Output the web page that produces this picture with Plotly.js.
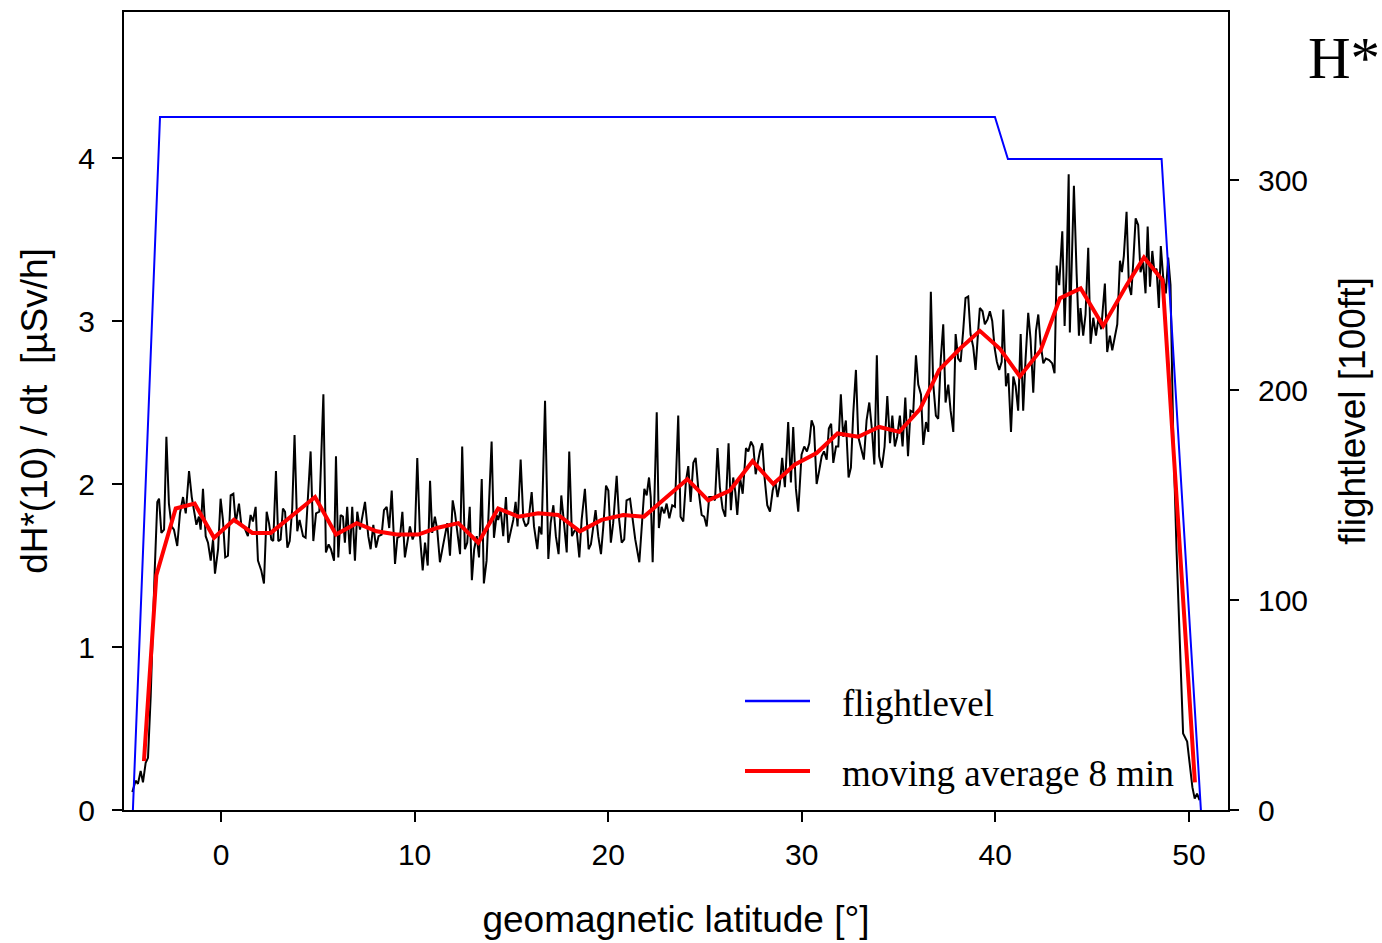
<!DOCTYPE html>
<html>
<head>
<meta charset="utf-8">
<script src="https://cdn.plot.ly/plotly-3.0.1.min.js"></script>
<style>html,body{margin:0;padding:0;background:#fff;}#chart{width:1382px;height:943px;}</style>
</head>
<body>
<div id="chart"></div>
<script>
// raw dose-rate series (geomagnetic latitude [deg], dH*(10)/dt [uSv/h])
const rawLat = [-4.58,-4.41,-4.29,-4.15,-4.03,-3.89,-3.77,-3.63,-3.43,-3.29,-3.20,-3.08,-2.94,-2.82,-2.69,-2.55,-2.43,-2.26,-2.12,-1.96,-1.82,-1.65,-1.51,-1.39,-1.27,-1.14,-1.05,-0.93,-0.79,-0.67,-0.53,-0.41,-0.31,-0.15,-0.02,0.10,0.22,0.36,0.50,0.64,0.76,0.93,1.05,1.22,1.39,1.53,1.65,1.79,1.91,2.08,2.22,2.36,2.48,2.60,2.70,2.84,2.96,3.08,3.20,3.31,3.43,3.55,3.68,3.80,3.94,4.06,4.24,4.37,4.63,4.77,
4.91,5.08,5.29,5.42,5.56,5.68,5.84,5.94,6.06,6.18,6.30,6.40,6.52,6.66,6.78,6.92,7.04,7.18,7.30,7.44,7.61,7.73,7.87,8.01,8.14,8.30,8.42,8.56,8.69,8.82,8.99,9.11,9.25,9.37,9.50,9.62,9.76,9.90,10.02,10.14,10.28,10.42,10.54,10.68,10.80,10.91,11.05,11.17,11.31,11.45,11.57,11.69,11.83,11.97,12.09,12.21,12.35,12.46,12.60,12.72,12.85,12.96,13.08,13.21,13.33,13.47,13.58,13.72,13.98,
14.10,14.24,14.32,14.45,14.58,14.72,14.84,14.98,15.10,15.22,15.32,15.48,15.62,15.74,15.87,16.05,16.17,16.34,16.44,16.56,16.74,16.91,17.03,17.17,17.30,17.44,17.58,17.72,17.86,17.99,18.13,18.25,18.37,18.51,18.63,18.80,18.99,19.11,19.23,19.35,19.49,19.63,19.75,19.89,20.01,20.14,20.26,20.44,20.57,20.70,20.83,20.95,21.13,21.27,21.40,21.61,21.73,21.87,21.99,22.11,22.20,22.30,22.51,22.62,22.76,22.90,23.02,23.16,
23.31,23.45,23.62,23.74,23.88,24.02,24.14,24.26,24.40,24.52,24.65,24.83,24.96,25.09,25.22,25.38,25.52,25.65,25.77,25.91,26.05,26.22,26.34,26.46,26.57,26.67,26.81,26.95,27.12,27.24,27.38,27.50,27.62,27.72,27.84,27.96,28.08,28.22,28.36,28.50,28.63,28.75,28.87,28.99,29.13,29.30,29.44,29.56,29.70,29.82,29.99,30.13,30.27,30.39,30.51,30.63,30.77,30.90,31.03,31.15,31.29,31.40,31.52,31.63,31.77,31.89,32.02,32.14,32.28,32.42,
32.54,32.66,32.80,32.92,33.06,33.21,33.35,33.49,33.63,33.75,33.88,34.00,34.14,34.28,34.42,34.56,34.68,34.81,34.93,35.07,35.21,35.35,35.49,35.62,35.76,35.90,36.02,36.16,36.28,36.42,36.54,36.67,36.79,36.93,37.05,37.18,37.31,37.43,37.57,37.69,37.83,37.95,38.08,38.21,38.34,38.46,38.60,38.72,38.86,38.98,39.08,39.20,39.34,39.46,39.60,39.72,39.84,39.97,40.08,40.20,40.33,40.41,40.55,40.67,40.81,40.93,41.05,41.18,41.31,41.44,41.56,41.70,
41.82,41.96,42.10,42.22,42.34,42.48,42.61,42.78,42.94,43.06,43.17,43.30,43.46,43.58,43.68,43.79,43.85,43.96,44.06,44.20,44.32,44.40,44.54,44.66,44.80,44.92,45.06,45.20,45.33,45.47,45.66,45.78,45.92,46.04,46.18,46.30,46.44,46.54,46.64,46.78,46.90,47.02,47.12,47.25,47.38,47.50,47.64,47.76,47.87,47.99,48.11,48.21,48.33,48.45,48.55,48.67,48.81,48.93,49.05,49.19,49.36,49.70,49.91,50.18,50.30,50.42,50.55];
const rawDose = [0.11,0.18,0.16,0.24,0.17,0.29,0.32,0.70,1.45,1.89,1.91,1.70,1.72,2.29,1.88,1.74,1.72,1.62,1.82,1.92,1.82,2.08,1.92,1.82,1.75,1.80,1.72,1.97,1.68,1.64,1.53,1.66,1.45,1.60,1.91,1.78,1.55,1.56,1.93,1.94,1.76,1.88,1.75,1.73,1.68,1.81,1.77,1.86,1.53,1.47,1.39,1.83,1.76,1.66,1.65,2.08,1.65,1.66,1.85,1.83,1.61,1.65,1.85,2.30,1.71,1.78,1.68,1.67,2.20,1.65,
1.82,1.83,2.55,1.58,1.63,1.60,1.53,2.17,1.55,1.81,1.80,1.64,1.86,1.57,1.86,1.53,1.83,1.72,1.81,1.89,1.68,1.60,1.75,1.61,1.68,1.69,1.84,1.86,1.73,1.96,1.51,1.67,1.68,1.83,1.55,1.64,1.74,1.66,1.70,2.16,1.68,1.47,1.64,1.50,2.02,1.70,1.80,1.72,1.52,1.61,1.68,1.76,1.56,1.90,1.82,1.71,1.57,2.23,1.60,1.64,1.86,1.41,1.60,1.68,1.55,2.03,1.39,1.53,2.26,
1.67,1.81,1.78,1.84,1.68,1.92,1.64,1.71,1.78,1.89,1.74,2.15,1.78,1.74,1.76,1.95,1.74,1.60,1.74,1.69,2.51,1.54,1.76,1.87,1.68,1.57,1.93,1.76,1.58,2.20,1.68,1.71,1.72,1.55,1.78,1.97,1.60,1.63,1.74,1.84,1.68,1.57,1.74,1.99,1.96,1.64,1.76,2.05,1.78,1.64,1.66,1.90,1.91,1.76,1.66,1.52,1.74,1.97,1.93,2.04,1.92,1.52,2.44,1.73,1.86,1.82,1.88,1.79,
1.87,1.86,2.42,1.80,1.77,2.02,2.11,1.89,2.13,2.16,1.98,1.81,1.80,1.74,1.92,1.92,1.90,2.22,1.98,1.85,1.80,2.25,1.84,2.04,1.95,1.81,2.04,1.94,2.22,2.20,2.26,2.23,2.06,2.13,2.20,2.25,2.04,1.87,1.83,1.96,2.02,1.92,2.00,2.16,1.98,2.38,2.01,2.35,1.97,1.83,2.18,2.23,2.20,2.25,2.39,2.35,2.00,2.08,2.17,2.20,2.15,2.34,2.37,2.13,2.23,2.23,2.55,2.29,2.39,2.04,
2.10,2.43,2.70,2.29,2.22,2.15,2.39,2.50,2.33,2.12,2.79,2.17,2.10,2.23,2.54,2.25,2.42,2.23,2.29,2.42,2.23,2.53,2.17,2.45,2.44,2.79,2.61,2.55,2.24,2.38,2.32,3.18,2.62,2.42,2.40,2.76,2.98,2.50,2.61,2.45,2.32,2.92,2.77,2.75,2.94,3.14,3.15,2.92,2.84,2.70,2.88,3.08,3.06,2.98,3.01,3.06,3.00,2.83,2.75,2.70,2.75,3.07,2.60,2.68,2.32,2.66,2.60,2.45,2.92,2.45,2.76,3.05,
2.89,2.56,2.94,3.04,2.86,2.74,2.77,2.76,2.74,2.68,3.34,3.22,3.55,2.97,3.31,3.90,2.93,3.50,3.83,3.29,2.91,3.08,2.91,3.04,3.45,2.86,3.02,2.91,3.02,2.95,3.23,2.81,2.91,2.82,2.91,2.98,3.37,3.30,3.40,3.67,3.22,3.16,3.35,3.63,3.59,3.30,3.36,3.17,3.58,3.21,3.43,3.31,3.32,3.08,3.46,3.27,3.17,3.39,3.22,2.30,1.60,0.47,0.42,0.14,0.07,0.10,0.06];

// 8-minute moving average
const avgLat = [-3.98,-3.34,-2.34,-1.36,-0.36,0.67,1.62,2.57,4.86,5.94,7.01,8.04,9.07,10.19,11.14,12.26,13.29,14.32,15.36,16.39,17.42,18.54,19.66,20.78,21.85,23.19,24.09,25.17,26.29,27.46,28.53,29.65,30.77,31.85,32.92,34.00,35.04,36.11,37.10,38.17,39.20,40.24,41.27,42.34,43.34,44.41,45.57,46.78,47.68,48.64,50.31];
const avgDose = [0.30,1.44,1.85,1.88,1.67,1.78,1.70,1.70,1.92,1.69,1.76,1.71,1.69,1.69,1.73,1.76,1.64,1.85,1.80,1.82,1.81,1.71,1.78,1.81,1.80,1.94,2.03,1.90,1.96,2.14,2.00,2.12,2.19,2.31,2.29,2.35,2.32,2.46,2.70,2.83,2.94,2.83,2.66,2.82,3.14,3.20,2.97,3.22,3.39,3.25,0.17];

// flight level [100 ft]
const flLat = [-4.55,-3.15,39.98,40.65,48.59,50.62];
const flLevel = [0,330,330,310,310,0];

const legendNames = ['flightlevel','moving average 8 min'];
const titleText = 'H*';

const sans = 'Liberation Sans, Arial, sans-serif';
const serif = 'Liberation Serif, Times New Roman, serif';

const traces = [
  {x: flLat, y: flLevel, yaxis: 'y2', type: 'scatter', mode: 'lines', name: legendNames[0],
   line: {color: '#0000ff', width: 2}, showlegend: false, hoverinfo: 'skip'},
  {x: rawLat, y: rawDose, type: 'scatter', mode: 'lines', name: 'dH*(10)/dt',
   line: {color: '#000000', width: 2}, showlegend: false, hoverinfo: 'skip'},
  {x: avgLat, y: avgDose, type: 'scatter', mode: 'lines', name: legendNames[1],
   line: {color: '#ff0000', width: 4}, showlegend: false, hoverinfo: 'skip'}
];

function px(x){ return (x-124)/1104; }
function py(y){ return (810-y)/798; }

const layout = {
  width: 1382, height: 943,
  margin: {l: 124, r: 154, t: 12, b: 133, pad: 0},
  paper_bgcolor: '#ffffff', plot_bgcolor: '#ffffff',
  showlegend: false,
  xaxis: {
    range: [-5.01, 52.02], dtick: 10, tick0: 0,
    showgrid: false, zeroline: false,
    showline: true, mirror: true, linecolor: '#000', linewidth: 2,
    ticks: 'outside', ticklen: 10, tickwidth: 2, tickcolor: '#000',
    tickfont: {family: sans, size: 30, color: '#000'}, ticklabelstandoff: 7,
    title: {text: 'geomagnetic latitude [°]', font: {family: sans, size: 37, color: '#000'}, standoff: 36}
  },
  yaxis: {
    range: [0, 4.896], dtick: 1, tick0: 0,
    showgrid: false, zeroline: false,
    showline: true, mirror: true, linecolor: '#000', linewidth: 2,
    ticks: 'outside', ticklen: 10, tickwidth: 2, tickcolor: '#000',
    tickfont: {family: sans, size: 30, color: '#000'}, ticklabelstandoff: 11,
    title: {text: 'dH*(10) / dt  [µSv/h]', font: {family: sans, size: 37, color: '#000'}, standoff: 19}
  },
  yaxis2: {
    range: [0, 380], dtick: 100, tick0: 0, overlaying: 'y', side: 'right',
    showgrid: false, zeroline: false, showline: false,
    ticks: 'outside', ticklen: 10, tickwidth: 2, tickcolor: '#000',
    tickfont: {family: sans, size: 30, color: '#000'}, ticklabelstandoff: 13,
    title: {text: 'flightlevel [100ft]', font: {family: sans, size: 37, color: '#000'}, standoff: 32}
  },
  shapes: [
    {type: 'line', xref: 'paper', yref: 'paper', x0: px(745), x1: px(810), y0: py(701), y1: py(701), line: {color: '#0000ff', width: 2.5}},
    {type: 'line', xref: 'paper', yref: 'paper', x0: px(745), x1: px(810), y0: py(771), y1: py(771), line: {color: '#ff0000', width: 4}}
  ],
  annotations: [
    {xref: 'paper', yref: 'paper', x: px(840), y: py(703), xanchor: 'left', yanchor: 'middle', showarrow: false,
     text: legendNames[0], font: {family: serif, size: 37, color: '#000'}},
    {xref: 'paper', yref: 'paper', x: px(840), y: py(773), xanchor: 'left', yanchor: 'middle', showarrow: false,
     text: legendNames[1], font: {family: serif, size: 37, color: '#000'}},
    {xref: 'paper', yref: 'paper', x: px(1306), y: py(58), xanchor: 'left', yanchor: 'middle', showarrow: false,
     text: titleText, font: {family: serif, size: 59, color: '#000'}}
  ]
};

Plotly.newPlot('chart', traces, layout, {displayModeBar: false, staticPlot: true});
</script>
</body>
</html>
